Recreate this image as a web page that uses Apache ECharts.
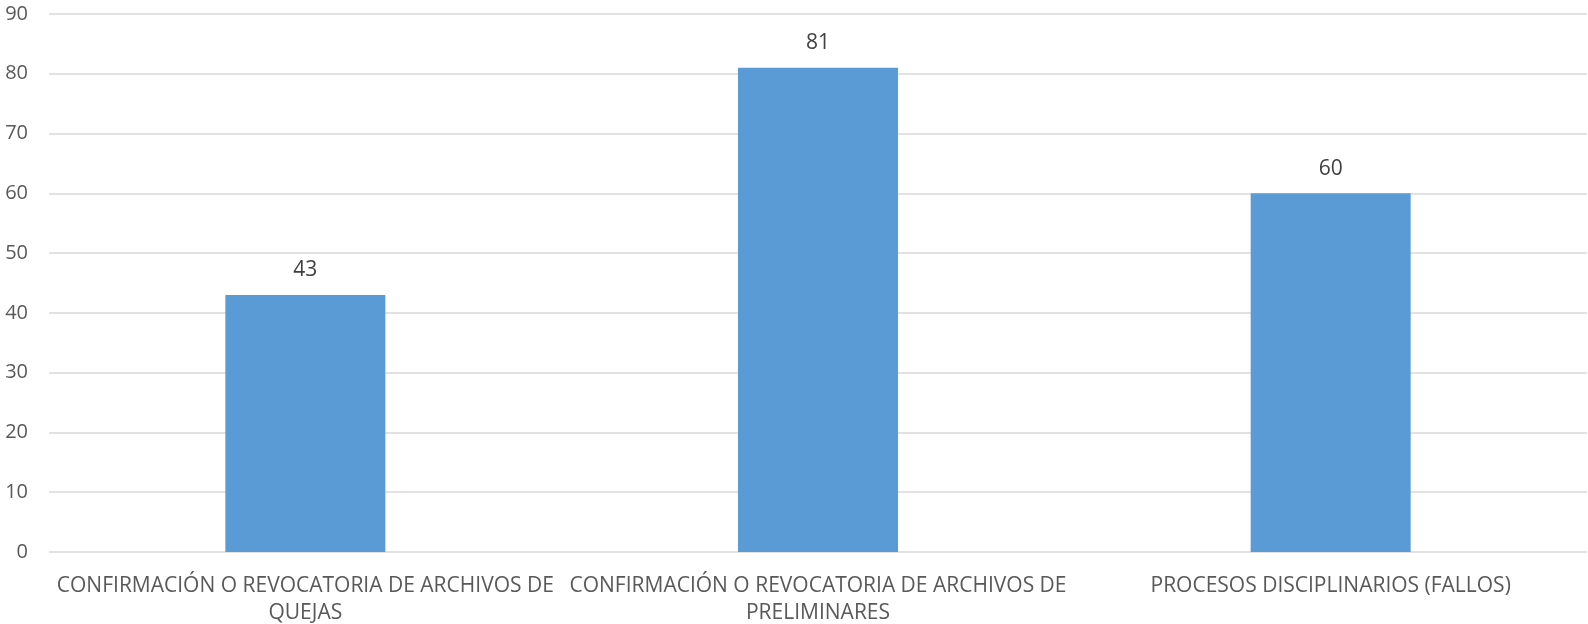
<!DOCTYPE html>
<html>
<head>
<meta charset="utf-8">
<script src="https://cdn.jsdelivr.net/npm/echarts@6/dist/echarts.min.js"></script>
<style>
  html, body { margin: 0; padding: 0; background: #fff; }
  #chart { width: 1588px; height: 624px; }
</style>
</head>
<body>
<div id="chart"></div>
<script>
// datos
const categorias = [
  'CONFIRMACIÓN O REVOCATORIA DE ARCHIVOS DE\nQUEJAS',
  'CONFIRMACIÓN O REVOCATORIA DE ARCHIVOS DE\nPRELIMINARES',
  'PROCESOS DISCIPLINARIOS (FALLOS)'
];
const valores = [43, 81, 60];
const ejeY = { min: 0, max: 90, paso: 10 };

const fuente = '"Open Sans", "Noto Sans", sans-serif';
const chart = echarts.init(document.getElementById('chart'));
chart.setOption({
  animation: false,
  grid: { left: 49, right: 1, top: 14, bottom: 72, containLabel: false, outerBoundsMode: 'none' },
  xAxis: {
    type: 'category',
    data: categorias,
    axisLine: { show: false },
    axisTick: { show: false },
    axisLabel: {
      interval: 0,
      margin: 21,
      color: '#595959',
      fontSize: 21,
      lineHeight: 27,
      fontFamily: fuente
    }
  },
  yAxis: {
    type: 'value',
    min: ejeY.min,
    max: ejeY.max,
    interval: ejeY.paso,
    axisLine: { show: false },
    axisTick: { show: false },
    axisLabel: { color: '#595959', fontSize: 20, margin: 21, fontFamily: fuente },
    splitLine: { lineStyle: { color: '#d9d9d9', width: 1.5 } }
  },
  series: [{
    type: 'bar',
    data: valores,
    barWidth: 160,
    itemStyle: { color: '#5b9bd5' },
    label: {
      show: true,
      position: 'top',
      distance: 14,
      color: '#404040',
      fontSize: 21,
      fontFamily: fuente
    }
  }]
});
</script>
</body>
</html>
